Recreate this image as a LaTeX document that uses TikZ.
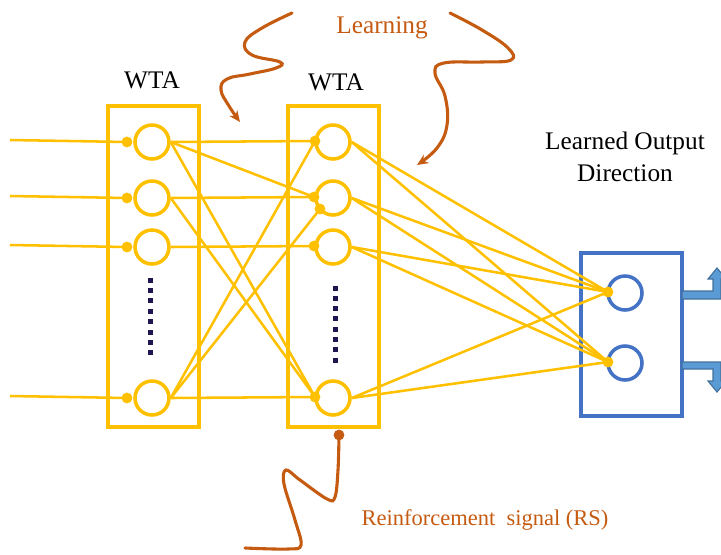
\documentclass[tikz,border=0pt]{standalone}
\usepackage{fontspec}
\setmainfont{Liberation Serif}
\usetikzlibrary{positioning,arrows.meta}

\definecolor{wtayellow}{HTML}{FFC000}
\definecolor{outblue}{HTML}{4472C4}
\definecolor{rsbrown}{HTML}{C55A11}
\definecolor{arrowfill}{HTML}{5B9BD5}
\definecolor{arrowedge}{HTML}{41719C}
\definecolor{dotnavy}{RGB}{30,22,80}

\begin{document}
\begin{tikzpicture}[
    x=0.025cm, y=-0.025cm,
    >=Stealth,
    wtabox/.style={draw=wtayellow, line width=2.6pt, inner sep=0pt,
        minimum width=2.275cm, minimum height=8.025cm},
    outbox/.style={draw=outblue, line width=2.6pt, inner sep=0pt,
        minimum width=2.525cm, minimum height=4.075cm},
    neuron/.style={circle, draw=wtayellow, line width=2.5pt,
        minimum size=0.85cm, inner sep=0pt},
    outneuron/.style={neuron, draw=outblue},
    syn/.style={circle, fill=wtayellow, minimum size=0.27cm, inner sep=0pt},
    link/.style={wtayellow, line width=1.8pt},
    wiggle/.style={rsbrown, line width=2.2pt, line cap=round},
    label/.style={font=\fontsize{18}{22.7}\selectfont, inner sep=0pt, align=center},
    brownlabel/.style={label, text=rsbrown}
]
\useasboundingbox (0,0) rectangle (721,554);

% Las cajas WTA y la caja de salida
\node[wtabox] (Lbox) at (153.5,266.5) {};
\node[wtabox] (Mbox) at (333.5,266.5) {};
\node[outbox] (Obox) at (631.5,334.5) {};

% Neuronas de las dos capas WTA
\foreach \i/\y in {1/142,2/198,3/247,4/398} {
    \node[neuron] (L\i) at (152,\y) {};
    \node[neuron] (M\i) at (333,\y) {};
    \coordinate (In\i) at (10,\y-2);
}

% Neuronas de salida
\node[outneuron] (O1) at (625,293) {};
\node[outneuron] (O2) at (625,363) {};

% Sinapsis
\foreach \i/\y in {1/142,2/198,3/247,4/398}
    \node[syn] (Ld\i) at (127,\y) {};
\node[syn] (Md1) at (315,141) {};
\node[syn] (Md2) at (314,197) {};
\node[syn] (Md2b) at (320,209) {};
\node[syn] (Md3) at (314,246) {};
\node[syn] (Md4) at (315,397) {};
\node[syn] (Od1) at (608,292) {};
\node[syn] (Od2) at (608,362) {};

% Entradas
\foreach \i in {1,...,4}
    \draw[link] (In\i) -- (Ld\i.center);

% Conexiones entre las dos capas WTA
\foreach \a/\b in {L1/Md1, L1/Md2, L1/Md4, L2/Md2, L2/Md4,
                   L3/Md3, L4/Md1, L4/Md2b, L4/Md4}
    \draw[link] (\a.east) -- (\b.center);

% Conexiones hacia la salida
\foreach \i in {1,...,4}
    \foreach \j in {1,2}
        \draw[link] (M\i.east) -- (Od\j.center);

% Puntos suspensivos verticales
\foreach \k in {0,...,7} {
    \fill[dotnavy] (147.5,{277.5+\k*10.4}) rectangle ++(5,5);
    \fill[dotnavy] (332.5,{285.5+\k*10.3}) rectangle ++(5,5);
}

% Flechas de salida
\begin{scope}
    \clip (0,0) rectangle (721,554);
    \filldraw[fill=arrowfill, draw=arrowedge, line width=0.8pt]
        (682,291) -- (713,291) -- (713,279) -- (708,279) -- (717,268)
        -- (726,279) -- (721,279) -- (721,299) -- (682,299) -- cycle;
    \filldraw[fill=arrowfill, draw=arrowedge, line width=0.8pt]
        (682,362) -- (721,362) -- (721,381) -- (726,381) -- (717,392)
        -- (708,381) -- (713,381) -- (713,369) -- (682,369) -- cycle;
\end{scope}

% Textos
\node[label, anchor=base] (wtaL) at (152,88) {WTA};
\node[label, anchor=base] (wtaM) at (336,90) {WTA};
\node[brownlabel, anchor=base] (learn) at (382,33) {Learning};
\node[label] (outdir) at (625,157) {Learned Output\\Direction};
\node[brownlabel, anchor=base, font=\fontsize{16}{19}\selectfont] (rs)
    at (485,525) {Reinforcement\ \ signal (RS)};

% Flechas de aprendizaje
\coordinate (lrnLtip) at (240,122);
\coordinate (lrnRtip) at (417,165);
\draw[wiggle, -{Stealth[length=8pt, width=7pt]}]
    plot[smooth, tension=0.7] coordinates {(292,13) (262,28) (245,42)
    (252,55) (280,62) (276,68) (250,74) (227,79) (221,90) (229,106) (lrnLtip)};
\draw[wiggle, -{Stealth[length=8pt, width=7pt]}]
    plot[smooth, tension=0.7] coordinates {(450,13) (482,30) (508,48)
    (511,60) (482,62) (444,63) (435,73) (445,96) (447,125) (437,148) (lrnRtip)};

% Senal de refuerzo
\node[circle, fill=rsbrown, minimum size=0.27cm, inner sep=0pt] (rsdot)
    at (339,435) {};
\coordinate (rsend) at (245,548);
\draw[wiggle]
    plot[smooth, tension=0.6] coordinates {(rsdot) (338,470) (335,497)
    (327,499) (300,480) (286,470) (284,484) (295,520) (301,545) (288,549) (rsend)};

\end{tikzpicture}
\end{document}
